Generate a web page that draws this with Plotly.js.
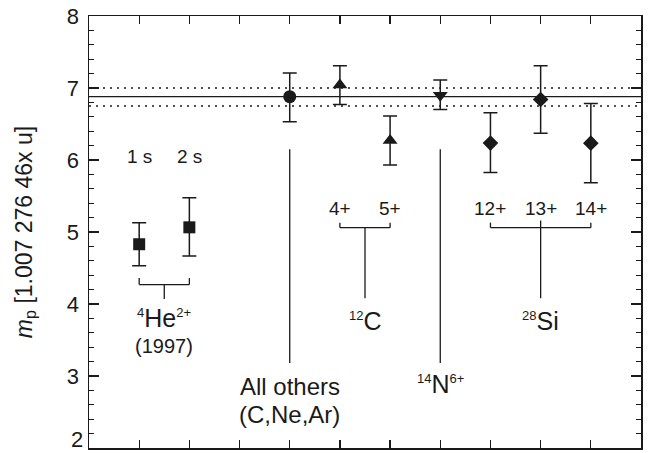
<!DOCTYPE html>
<html>
<head>
<meta charset="utf-8">
<script src="https://cdn.plot.ly/plotly-3.0.1.min.js"></script>
<style>
  html, body { margin: 0; padding: 0; background: #fff; }
  #chart { width: 653px; height: 453px; }
</style>
</head>
<body>
<div id="chart"></div>
<script>
// ---- data ----
const heX = [1, 2];
const heY = [4.83, 5.065];
const heErrPlus = [0.30, 0.41];
const heErrMinus = [0.30, 0.40];

const othersX = [4];
const othersY = [6.88];
const othersErrPlus = [0.33];
const othersErrMinus = [0.35];

const carbonX = [5, 6];
const carbonY = [7.04, 6.27];
const carbonErrPlus = [0.27, 0.34];
const carbonErrMinus = [0.27, 0.34];

const nitrogenX = [7];
const nitrogenY = [6.90];
const nitrogenErrPlus = [0.21];
const nitrogenErrMinus = [0.20];

const siliconX = [8, 9, 10];
const siliconY = [6.235, 6.84, 6.234];
const siliconErrPlus = [0.42, 0.47, 0.55];
const siliconErrMinus = [0.41, 0.47, 0.55];

const meanValue = 6.88;
const bandUpper = 7.00;
const bandLower = 6.75;

const yTickVals = [3, 4, 5, 6, 7, 8];
const yTickText = ['3', '4', '5', '6', '7', '8'];
const yBottomValue = 2;
const yBottomText = '2';

// ---- styling ----
const ink = '#1a1a1a';
const FONT = 'Liberation Sans, Arial, Helvetica, sans-serif';

function series(x, y, ep, em, symbol, size) {
  return {
    type: 'scatter', mode: 'markers', x: x, y: y,
    marker: { symbol: symbol, size: size, color: ink },
    error_y: { type: 'data', symmetric: false, array: ep, arrayminus: em,
               width: 7, thickness: 1.5, color: ink },
    showlegend: false, hoverinfo: 'x+y'
  };
}

const traces = [
  series(heX, heY, heErrPlus, heErrMinus, 'square', 12),
  series(othersX, othersY, othersErrPlus, othersErrMinus, 'circle', 13),
  series(carbonX, carbonY, carbonErrPlus, carbonErrMinus, 'triangle-up', 13),
  series(nitrogenX, nitrogenY, nitrogenErrPlus, nitrogenErrMinus, 'triangle-down', 13),
  series(siliconX, siliconY, siliconErrPlus, siliconErrMinus, 'diamond', 12)
];

function seg(x0, y0, x1, y1) {
  return { type: 'line', xref: 'x', yref: 'y', x0: x0, y0: y0, x1: x1, y1: y1,
           line: { color: ink, width: 1.3 } };
}
function hline(y, dash) {
  return { type: 'line', xref: 'paper', yref: 'y', x0: 0, x1: 1, y0: y, y1: y,
           line: { color: ink, width: 1.3, dash: dash } };
}

const shapes = [
  hline(meanValue, 'solid'),
  hline(bandUpper, '2px,5px'),
  hline(bandLower, '2px,5px'),
  // He bracket
  seg(1, 4.36, 1, 4.27), seg(1, 4.27, 2, 4.27), seg(2, 4.27, 2, 4.36), seg(1.5, 4.27, 1.5, 4.07),
  // All others
  seg(4, 6.15, 4, 3.18),
  // C bracket
  seg(5, 5.13, 5, 5.06), seg(5, 5.06, 6, 5.06), seg(6, 5.06, 6, 5.13), seg(5.5, 5.06, 5.5, 4.08),
  // N
  seg(7, 6.15, 7, 3.18),
  // Si bracket
  seg(8, 5.13, 8, 5.06), seg(8, 5.06, 10, 5.06), seg(10, 5.06, 10, 5.13), seg(9, 5.16, 9, 4.08)
];

function label(x, y, text, size) {
  return { x: x, y: y, xref: 'x', yref: 'y', text: text, showarrow: false,
           xanchor: 'center', yanchor: 'middle',
           font: { family: FONT, size: size, color: ink } };
}
const sup = (t) => '<sup><span style="font-size:13px">' + t + '</span></sup>';

const annotations = [
  label(1, 6.05, '1 s', 19),
  label(2, 6.05, '2 s', 19),
  label(1.5, 3.81, sup('4') + 'He' + sup('2+'), 25),
  label(1.5, 3.42, '(1997)', 20),
  label(4, 2.86, 'All others', 24),
  label(4, 2.46, '(C,Ne,Ar)', 24),
  label(5, 5.33, '4+', 19),
  label(6, 5.33, '5+', 19),
  label(5.5, 3.76, sup('12') + 'C', 25),
  label(7, 2.89, sup('14') + 'N' + sup('6+'), 25),
  label(8, 5.33, '12+', 19),
  label(9, 5.33, '13+', 19),
  label(10, 5.33, '14+', 19),
  label(9, 3.76, sup('28') + 'Si', 25),
  // bottom y tick label, lifted so that it stays inside the picture
  { x: 0, xref: 'paper', y: yBottomValue, yref: 'y', text: yBottomText, showarrow: false,
    xanchor: 'right', yanchor: 'bottom', xshift: -4, yshift: -6,
    font: { family: FONT, size: 22, color: ink } }
];

const layout = {
  width: 653, height: 453,
  margin: { l: 89, r: 12, t: 16, b: 5, pad: 0 },
  paper_bgcolor: '#ffffff', plot_bgcolor: '#ffffff',
  font: { family: FONT, color: ink },
  showlegend: false,
  xaxis: {
    range: [0, 11], tick0: 0, dtick: 1, ticks: 'inside', ticklen: 8, tickwidth: 1.3,
    tickcolor: ink, showticklabels: false, showline: true, linewidth: 1.5, linecolor: ink,
    mirror: 'ticks', showgrid: false, zeroline: false, fixedrange: true
  },
  yaxis: {
    range: [2, 8], tickmode: 'array', tickvals: yTickVals, ticktext: yTickText,
    ticks: 'inside', ticklen: 10, tickwidth: 1.3, tickcolor: ink,
    minor: { dtick: 0.2, tick0: 2, ticks: 'inside', ticklen: 5, tickwidth: 1.3, tickcolor: ink, showgrid: false },
    tickfont: { family: FONT, size: 22, color: ink },
    ticklabelstandoff: 4,
    ticklabeloverflow: 'allow',
    showline: true, linewidth: 1.5, linecolor: ink, mirror: 'ticks',
    showgrid: false, zeroline: false, fixedrange: true,
    title: { text: '<i>m</i><sub>p</sub> [1.007 276 46x u]', standoff: 28,
             font: { family: FONT, size: 23, color: ink } },
    automargin: false
  },
  shapes: shapes,
  annotations: annotations
};

Plotly.newPlot('chart', traces, layout, { displayModeBar: false, staticPlot: true });
</script>
</body>
</html>
